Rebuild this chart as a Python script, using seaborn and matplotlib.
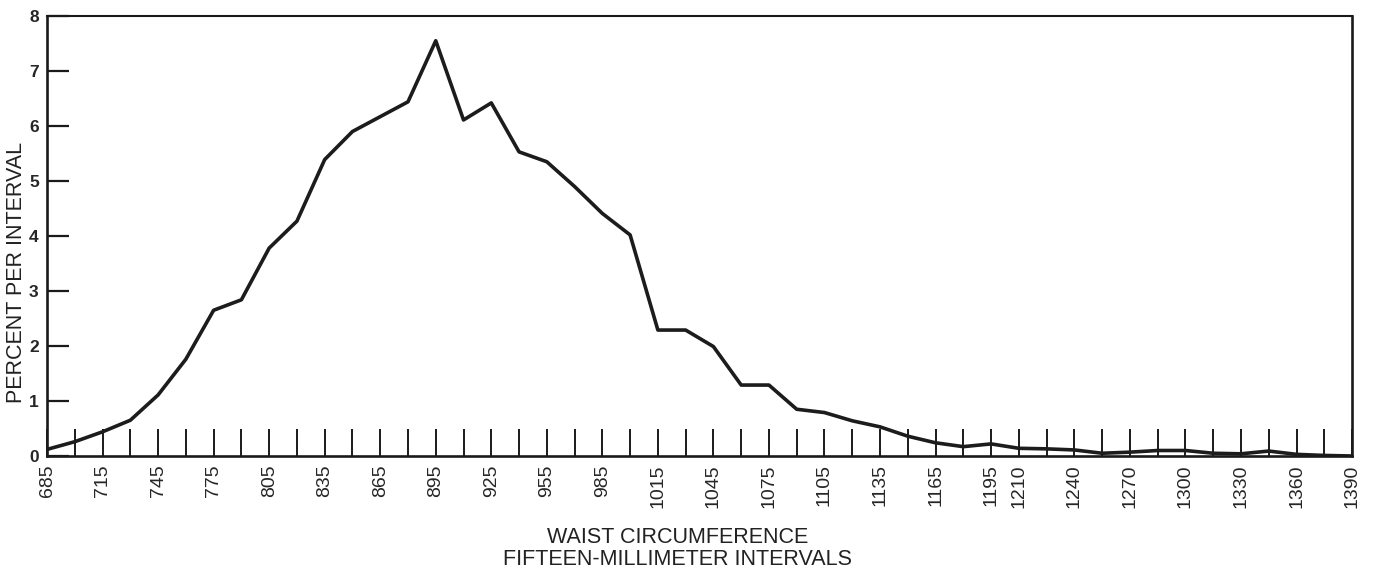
import matplotlib
matplotlib.use('Agg')
import matplotlib.pyplot as plt
import numpy as np
import pandas as pd
import seaborn as sns

# 腰围分布 - 每15mm一个区间
waist_mm = list(range(685, 1391, 15))
percent = [0.12, 0.26, 0.44, 0.65, 1.11, 1.76, 2.65, 2.84, 3.78, 4.27,
           5.39, 5.90, 6.17, 6.44, 7.55, 6.11, 6.42, 5.53, 5.35, 4.90,
           4.41, 4.02, 2.29, 2.29, 1.99, 1.29, 1.29, 0.85, 0.79, 0.64,
           0.53, 0.36, 0.24, 0.17, 0.22, 0.14, 0.13, 0.11, 0.05, 0.07,
           0.10, 0.10, 0.05, 0.04, 0.09, 0.03, 0.01, 0.00]

x_labels = [685, 715, 745, 775, 805, 835, 865, 895, 925, 955, 985, 1015,
            1045, 1075, 1105, 1135, 1165, 1195, 1210, 1240, 1270, 1300,
            1330, 1360, 1390]
y_ticks = [0, 1, 2, 3, 4, 5, 6, 7, 8]

df = pd.DataFrame({'waist': waist_mm, 'pct': percent})

sns.set_theme(style='ticks')
plt.rcParams['font.family'] = ['Liberation Sans', 'DejaVu Sans']

fig = plt.figure(figsize=(13.75, 5.7), dpi=100)
ax = fig.add_axes([0.0342, 0.2, 0.9491, 0.7719])

sns.lineplot(data=df, x='waist', y='pct', ax=ax, color='#1c1c1c', linewidth=2.6)

ax.set_xlim(685, 1390)
ax.set_ylim(0, 8)

for s in ax.spines.values():
    s.set_linewidth(1.9)
    s.set_color('#1a1a1a')
ax.spines['top'].set_linewidth(1.5)

ax.set_xticks(x_labels)
ax.set_xticklabels([str(v) for v in x_labels], rotation=90, fontsize=14)
ax.set_xticks(waist_mm, minor=True)
ax.tick_params(axis='x', which='both', direction='in', length=19.5, width=1.4,
               color='#1a1a1a', pad=6)

ax.set_yticks(y_ticks)
ax.set_yticklabels([str(v) for v in y_ticks], fontsize=12.5, fontweight='bold')
ax.tick_params(axis='y', direction='in', length=16, width=1.6, color='#1a1a1a', pad=6)

ax.set_ylabel('PERCENT PER INTERVAL', fontsize=15.5, color='#222222', va='center')
ax.yaxis.set_label_coords(-0.0235, 0.418)
ax.set_xlabel('WAIST CIRCUMFERENCE\nFIFTEEN-MILLIMETER INTERVALS', fontsize=15.5,
              color='#222222', linespacing=1.05, va='top')
ax.xaxis.set_label_coords(0.4835, -0.162)

ax.grid(False)
fig.savefig('out.png', dpi=100, facecolor='white')
